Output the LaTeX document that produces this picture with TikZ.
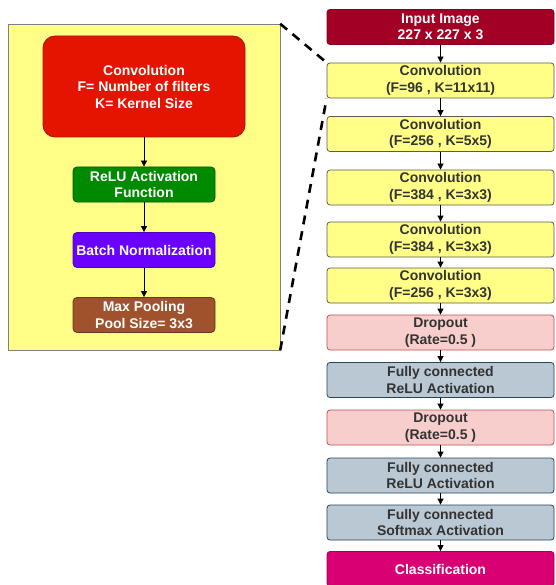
\documentclass[tikz,border=0pt]{standalone}
\usepackage{fontspec}
\setmainfont{Liberation Sans}
\usetikzlibrary{arrows.meta}
\definecolor{inred}{HTML}{A20025}
\definecolor{convY}{HTML}{FFFF88}
\definecolor{convYB}{HTML}{5A5A50}
\definecolor{dropF}{HTML}{F8CECC}
\definecolor{dropB}{HTML}{B85450}
\definecolor{fcF}{HTML}{BAC8D3}
\definecolor{fcB}{HTML}{23445D}
\definecolor{clF}{HTML}{D80073}
\definecolor{convR}{HTML}{E51400}
\definecolor{reluF}{HTML}{008A00}
\definecolor{bnF}{HTML}{6A00FF}
\definecolor{mpF}{HTML}{A0522D}
\definecolor{txtD}{HTML}{333333}
\begin{document}
\begin{tikzpicture}[x=1pt, y=-1pt, every node/.style={font=\bfseries\fontsize{14}{16.5}\selectfont, align=center}, >={Triangle[length=6pt, width=6pt]},
	blk/.style={rectangle, rounded corners=3pt, minimum width=227pt, minimum height=35pt, inner sep=0pt, line width=0.8pt},
	conv/.style={blk, fill=convY, draw=convYB, text=txtD},
	drop/.style={blk, fill=dropF, draw=dropB, text=txtD},
	fc/.style={blk, fill=fcF, draw=fcB, text=txtD},
	sub/.style={rectangle, rounded corners=4pt, minimum width=142pt, minimum height=35pt, inner sep=0pt, text=white, line width=0.8pt}]
	\useasboundingbox (0,0) rectangle (555,585);
	\node (P) [draw=gray, fill=convY, minimum width=272pt, minimum height=326pt, inner sep=0pt] at (144,187) {};
	\node (K) [fill=convR, draw=convR!75!black, rounded corners=12pt, minimum width=202pt, minimum height=101pt, inner sep=0pt, text=white, line width=0.8pt] at (144,86.5) {Convolution\\F= Number of filters\\K= Kernel Size};
	\node (R) [sub, fill=reluF, draw=reluF!65!black] at (144,184.5) {ReLU Activation\\Function};
	\node (B) [sub, fill=bnF, draw=bnF!75!black] at (144,250) {Batch Normalization};
	\node (M) [sub, fill=mpF, draw=mpF!65!black] at (144,315) {Max Pooling\\Pool Size= 3x3};
	\foreach \a/\b in {K/R, R/B, B/M}
		\draw[->, thick] (\a) -- (\b);
	\node (I) [blk, fill=inred, draw=inred!80!black, text=white] at (440.5,27) {Input Image\\227 x 227 x 3};
	\node (C1) [conv] at (440.5,80.5) {Convolution\\(F=96 , K=11x11)};
	\node (C2) [conv] at (440.5,134) {Convolution\\(F=256 , K=5x5)};
	\node (C3) [conv] at (440.5,187.5) {Convolution\\(F=384 , K=3x3)};
	\node (C4) [conv] at (440.5,239.5) {Convolution\\(F=384 , K=3x3)};
	\node (C5) [conv] at (440.5,285.5) {Convolution\\(F=256 , K=3x3)};
	\node (D1) [drop] at (440.5,332.5) {Dropout\\(Rate=0.5 )};
	\node (F1) [fc] at (440.5,380) {Fully connected\\ReLU Activation};
	\node (D2) [drop] at (440.5,427.5) {Dropout\\(Rate=0.5 )};
	\node (F2) [fc] at (440.5,475.5) {Fully connected\\ReLU Activation};
	\node (F3) [fc] at (440.5,522.5) {Fully connected\\Softmax Activation};
	\node (Cl) [blk, fill=clF, draw=clF!75!black, text=white] at (440.5,569) {Classification};
	\foreach \a/\b in {I/C1, C1/C2, C2/C3, C3/C4, C4/C5, C5/D1, D1/F1, F1/D2, D2/F2, F2/F3, F3/Cl}
		\draw[->, thick] (\a) -- (\b);
	\draw[line width=2.6pt, dash pattern=on 9pt off 7pt] (P.north east) -- (C1.north west);
	\draw[line width=2.6pt, dash pattern=on 9pt off 7pt] (P.south east) -- (C1.south west);
\end{tikzpicture}
\end{document}
